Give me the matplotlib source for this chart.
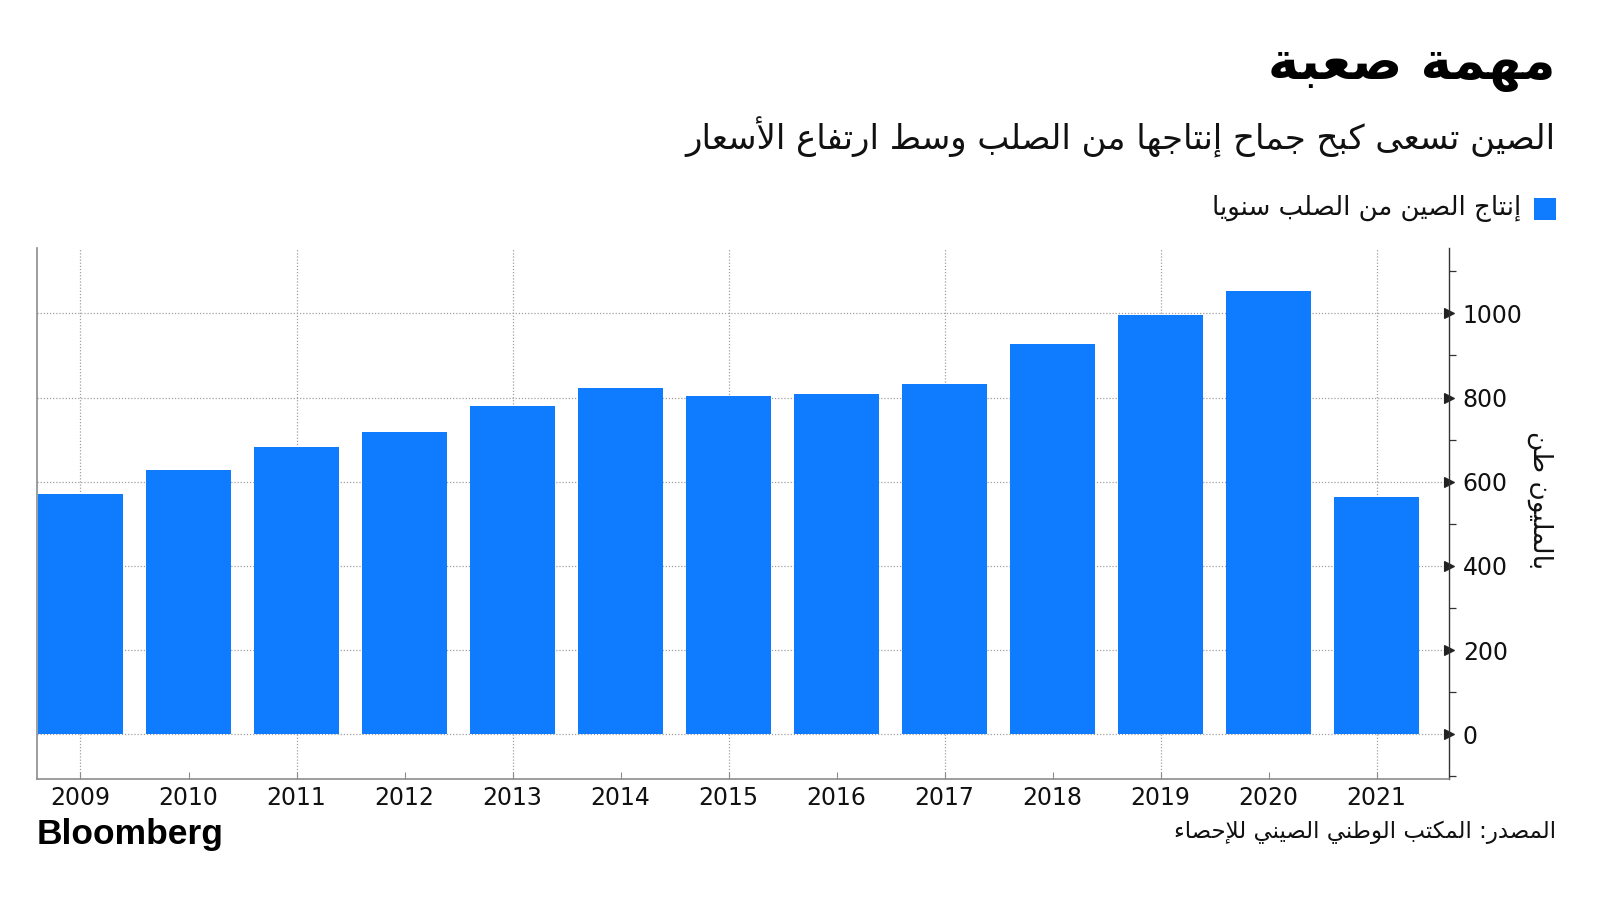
import matplotlib
matplotlib.use("Agg")
import matplotlib.pyplot as plt
from matplotlib.patches import Rectangle

# ---------------- data ----------------
years = [2009, 2010, 2011, 2012, 2013, 2014, 2015, 2016, 2017, 2018, 2019, 2020, 2021]
production = [570, 627, 683, 717, 779, 822, 804, 808, 831, 928, 996, 1053, 563]
y_ticks = [0, 200, 400, 600, 800, 1000]
x_labels = [str(y) for y in years]

title_txt = "مهمة صعبة"
subtitle_txt = "الصين تسعى كبح جماح إنتاجها من الصلب وسط ارتفاع الأسعار"
legend_txt = "إنتاج الصين من الصلب سنويا"
ylabel_txt = "بالمليون طن"
source_txt = "المصدر: المكتب الوطني الصيني للإحصاء"

BLUE = "#0f7cff"

# ---------------- minimal Arabic shaping (presentation forms) ----------------
FOUR = {0x0626: 0xFE89, 0x0628: 0xFE8F, 0x062A: 0xFE95, 0x062B: 0xFE99, 0x062C: 0xFE9D,
        0x062D: 0xFEA1, 0x062E: 0xFEA5, 0x0633: 0xFEB1, 0x0634: 0xFEB5, 0x0635: 0xFEB9,
        0x0636: 0xFEBD, 0x0637: 0xFEC1, 0x0638: 0xFEC5, 0x0639: 0xFEC9, 0x063A: 0xFECD,
        0x0641: 0xFED1, 0x0642: 0xFED5, 0x0643: 0xFED9, 0x0644: 0xFEDD, 0x0645: 0xFEE1,
        0x0646: 0xFEE5, 0x0647: 0xFEE9, 0x064A: 0xFEF1}
TWO = {0x0622: 0xFE81, 0x0623: 0xFE83, 0x0624: 0xFE85, 0x0625: 0xFE87, 0x0627: 0xFE8D,
       0x0629: 0xFE93, 0x062F: 0xFEA9, 0x0630: 0xFEAB, 0x0631: 0xFEAD, 0x0632: 0xFEAF,
       0x0648: 0xFEED, 0x0649: 0xFEEF}
ONE = {0x0621: 0xFE80}
LAMALEF = {0x0622: 0xFEF5, 0x0623: 0xFEF7, 0x0625: 0xFEF9, 0x0627: 0xFEFB}


def is_ar(c):
    o = ord(c)
    return o in FOUR or o in TWO or o in ONE


def shape(text):
    out = []
    chars = list(text)
    i = 0
    n = len(chars)
    while i < n:
        c = chars[i]
        o = ord(c)
        prev = chars[i - 1] if i > 0 else None
        nxt = chars[i + 1] if i + 1 < n else None
        cp = prev is not None and ord(prev) in FOUR
        if o == 0x0644 and nxt is not None and ord(nxt) in LAMALEF:
            base = LAMALEF[ord(nxt)]
            out.append(chr(base + (1 if cp else 0)))
            i += 2
            continue
        if o in FOUR:
            cn = nxt is not None and is_ar(nxt)
            b = FOUR[o]
            if cp and cn:
                out.append(chr(b + 3))
            elif cp:
                out.append(chr(b + 1))
            elif cn:
                out.append(chr(b + 2))
            else:
                out.append(chr(b))
        elif o in TWO:
            out.append(chr(TWO[o] + (1 if cp else 0)))
        elif o in ONE:
            out.append(chr(ONE[o]))
        else:
            out.append(c)
        i += 1
    return "".join(out[::-1])


AR = ["DejaVu Sans"]

# ---------------- figure ----------------
fig = plt.figure(figsize=(16, 9), dpi=100)
ax = fig.add_axes([0.0229, 0.1349, 0.9056 - 0.0229, 0.7244 - 0.1349])

ax.bar(years, production, width=0.78, color=BLUE, zorder=3)

ax.set_xlim(2008.594, 2021.67)
ax.set_ylim(-105, 1155)

# horizontal dotted grid
for v in y_ticks:
    ax.axhline(v, color="#a0a0a0", linestyle=(0, (1, 1.5)), linewidth=0.9, zorder=1)
# vertical dotted grid every other year
for yr in years[::2]:
    ax.axvline(yr, color="#a0a0a0", linestyle=(0, (1, 1.5)), linewidth=0.9, zorder=1)

# spines
ax.spines["top"].set_visible(False)
ax.spines["left"].set_color("#8c8c8c")
ax.spines["left"].set_linewidth(1.2)
ax.spines["bottom"].set_color("#8c8c8c")
ax.spines["bottom"].set_linewidth(1.2)
ax.spines["right"].set_color("#333333")
ax.spines["right"].set_linewidth(1.0)

# x ticks
ax.set_xticks(years)
ax.set_xticklabels(x_labels, fontsize=17, color="#111111")
ax.tick_params(axis="x", direction="in", length=5, width=0.8, color="#8c8c8c", pad=5)

# y ticks on the right
ax.yaxis.tick_right()
ax.set_yticks(y_ticks)
ax.set_yticklabels([str(v) for v in y_ticks], fontsize=17, color="#111111")
ax.set_yticks([-100, 100, 300, 500, 700, 900, 1100], minor=True)
ax.tick_params(axis="y", which="major", direction="out", length=0, pad=10)
ax.tick_params(axis="y", which="minor", direction="out", length=5, width=0.9,
               color="#333333", left=False, right=True)
for t in ax.yaxis.get_major_ticks():
    t.tick2line.set_marker(">")
    t.tick2line.set_markersize(7)
    t.tick2line.set_markerfacecolor("#222222")
    t.tick2line.set_markeredgecolor("#222222")
    t.tick2line.set_visible(True)

# y label (right side, rotated)
fig.text(0.9625, 0.444, shape(ylabel_txt), rotation=-90, ha="center", va="center",
         fontsize=19, family=AR, color="#111111")

# title / subtitle
fig.text(0.9725, 0.927, shape(title_txt), ha="right", va="center", fontsize=38,
         fontweight="bold", family=AR, color="#000000")
fig.text(0.9725, 0.847, shape(subtitle_txt), ha="right", va="center", fontsize=24.4,
         family=AR, color="#111111")

# legend
fig.patches.append(Rectangle((0.9588, 0.756), 0.0137, 0.0244, transform=fig.transFigure,
                             facecolor=BLUE, edgecolor="none"))
fig.text(0.9505, 0.768, shape(legend_txt), ha="right", va="center", fontsize=18.7,
         family=AR, color="#111111")

# footer
fig.text(0.0229, 0.073, "Bloomberg", ha="left", va="center", fontsize=25.5,
         fontweight="bold", family=["Liberation Sans", "DejaVu Sans"], color="#000000")
fig.text(0.9725, 0.0756, shape(source_txt), ha="right", va="center", fontsize=16.5,
         family=AR, color="#111111")

fig.savefig("out.png", dpi=100, facecolor="white")
